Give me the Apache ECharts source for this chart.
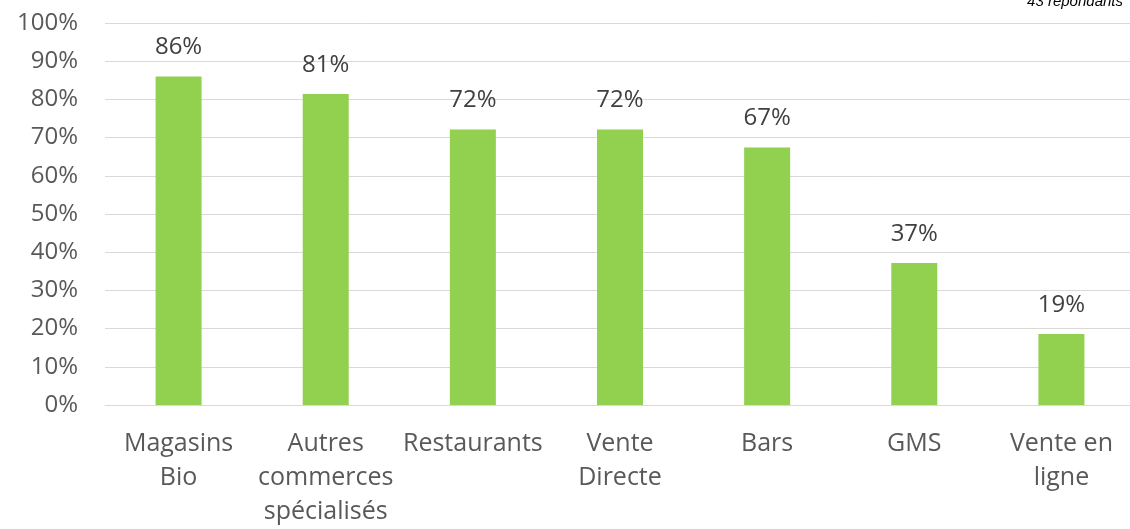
<!DOCTYPE html>
<html>
<head>
<meta charset="utf-8">
<script src="https://cdn.jsdelivr.net/npm/echarts@6/dist/echarts.min.js"></script>
<style>
  html, body { margin: 0; padding: 0; background: #fff; overflow: hidden; }
  #chart-container { width: 1140px; height: 529px; }
</style>
</head>
<body>
<div id="chart-container"></div>
<script>
// données du graphique
const categories = ['Magasins\nBio', 'Autres\ncommerces\nspécialisés', 'Restaurants', 'Vente\nDirecte', 'Bars', 'GMS', 'Vente en\nligne'];
const valeurs = [86.0, 81.4, 72.1, 72.1, 67.4, 37.2, 18.6];
const ticksY = [0, 10, 20, 30, 40, 50, 60, 70, 80, 90, 100];
const note = '43 répondants';

const police = '"Open Sans", "Noto Sans", sans-serif';

// le conteneur dépasse un peu la fenêtre : la grille du modèle sort à droite
var myChart = echarts.init(document.getElementById('chart-container'));

var option = {
    animation: false,
    title: {
        text: note,
        right: 12,
        top: -11,
        textStyle: {
            fontSize: 15,
            fontStyle: 'italic',
            fontWeight: 'normal',
            fontFamily: 'Liberation Sans, Arial, sans-serif',
            color: '#000'
        }
    },
    grid: {
        left: 105,
        right: 5,
        top: 23,
        height: 382,
        containLabel: false
    },
    xAxis: {
        type: 'category',
        data: categories,
        axisLine: { show: true, lineStyle: { color: '#d9d9d9', width: 1 } },
        axisTick: { show: false },
        axisLabel: {
            interval: 0,
            margin: 22,
            color: '#595959',
            fontSize: 25,
            lineHeight: 34,
            fontFamily: police
        }
    },
    yAxis: {
        type: 'value',
        min: ticksY[0],
        max: ticksY[ticksY.length - 1],
        interval: 10,
        axisLine: { show: false },
        axisTick: { show: false },
        splitLine: { lineStyle: { color: '#d9d9d9', width: 1 } },
        axisLabel: {
            margin: 27,
            color: '#595959',
            fontSize: 24,
            fontFamily: police,
            formatter: v => v + '%'
        }
    },
    series: [
        {
            type: 'bar',
            data: valeurs,
            barWidth: 46,
            itemStyle: { color: '#92d050' },
            label: {
                show: true,
                position: 'top',
                distance: 17,
                color: '#404040',
                fontSize: 24,
                fontFamily: police,
                formatter: p => Math.round(p.value) + '%'
            }
        }
    ]
};

myChart.setOption(option);
</script>
</body>
</html>
